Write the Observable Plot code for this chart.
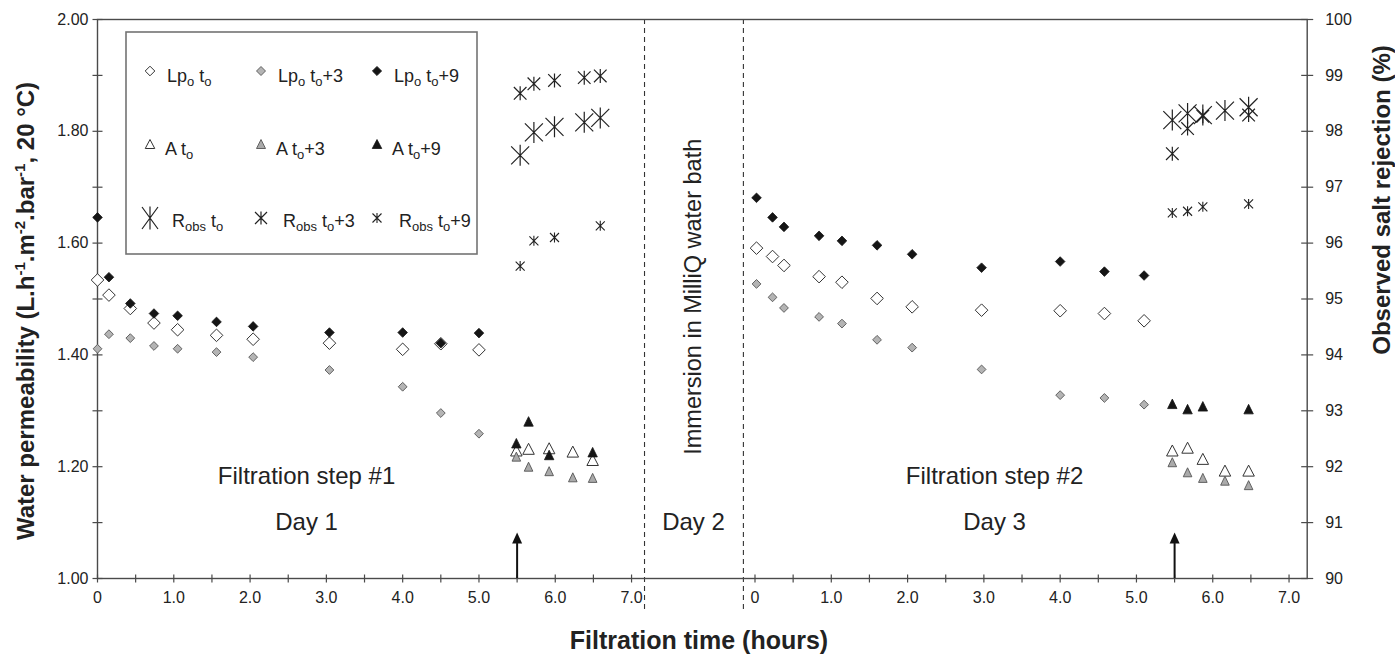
<!DOCTYPE html>
<html><head><meta charset="utf-8">
<script src="https://cdn.jsdelivr.net/npm/d3@7"></script>
<script src="https://cdn.jsdelivr.net/npm/@observablehq/plot@0.6"></script>
<style>
html,body{margin:0;padding:0;background:#fff;}
#chart{position:relative;width:1395px;height:657px;}
#chart svg{font-family:"Liberation Sans",Arial,sans-serif;}
</style></head><body><div id="chart"></div>
<script>
// ---------------- data ----------------
const OFFSET = 8.618;          // Day-3 time origin on the combined time axis (hours)
const X_END = 15.856;          // end of the combined time axis
const DIVIDERS = [7.17, 8.466];
const ARROWS = [5.5, 5.5 + OFFSET];
const ARROW_TOP = 1.0625;

// Filtration step #1 (Day 1)
const step1LpTimes = [0, 0.15, 0.43, 0.74, 1.05, 1.56, 2.04, 3.04, 4.0, 4.5, 5.0];
const step1Lp0 = [1.534, 1.507, 1.483, 1.457, 1.445, 1.435, 1.428, 1.421, 1.410, 1.420, 1.409];
const step1Lp3 = [1.411, 1.437, 1.430, 1.416, 1.411, 1.405, 1.396, 1.373, 1.343, 1.296, 1.259];
const step1Lp9 = [1.646, 1.539, 1.492, 1.474, 1.470, 1.459, 1.451, 1.440, 1.440, 1.421, 1.439];
const step1ATimes = [5.49, 5.65, 5.92, 6.23, 6.49];
const step1A0 = [1.229, 1.232, 1.233, 1.227, 1.212];
const step1A3 = [1.218, 1.200, 1.192, 1.181, 1.180];
const step1A9 = [1.242, 1.281, 1.221, null, 1.226];
const step1RTimes = [5.54, 5.72, 5.99, 6.38, 6.59];
const step1R0 = [97.57, 97.98, 98.08, 98.16, 98.24];
const step1R3 = [98.68, 98.85, 98.91, 98.96, 98.99];
const step1R9 = [95.59, 96.04, 96.10, null, 96.31];

// Filtration step #2 (Day 3)
const step2LpTimes = [0.02, 0.23, 0.38, 0.84, 1.14, 1.60, 2.06, 2.97, 4.0, 4.58, 5.10];
const step2Lp0 = [1.591, 1.576, 1.560, 1.540, 1.530, 1.501, 1.486, 1.480, 1.479, 1.474, 1.461];
const step2Lp3 = [1.527, 1.503, 1.484, 1.468, 1.456, 1.427, 1.413, 1.374, 1.328, 1.323, 1.311];
const step2Lp9 = [1.681, 1.646, 1.629, 1.613, 1.604, 1.596, 1.580, 1.556, 1.567, 1.549, 1.542];
const step2ATimes = [5.47, 5.67, 5.87, 6.16, 6.47];
const step2A0 = [1.229, 1.234, 1.214, 1.193, 1.193];
const step2A3 = [1.208, 1.190, 1.180, 1.175, 1.167];
const step2A9 = [1.3125, 1.303, 1.308, null, 1.303];
const step2RTimes = [5.47, 5.67, 5.87, 6.16, 6.47];
const step2R0 = [98.20, 98.32, 98.29, 98.37, 98.43];
const step2R3 = [97.60, 98.05, 98.27, null, 98.29];
const step2R9 = [96.54, 96.57, 96.65, null, 96.70];

// axes
const yTickLabels = ["1.00", "1.20", "1.40", "1.60", "1.80", "2.00"];
const yMinorTicks = [1.1, 1.3, 1.5, 1.7, 1.9];
const rightTickLabels = [90, 91, 92, 93, 94, 95, 96, 97, 98, 99, 100];
const xTickLabels = ["0", "1.0", "2.0", "3.0", "4.0", "5.0", "6.0", "7.0"];
const xMinorHours = [0.5, 1.5, 2.5, 3.5, 4.5, 5.5, 6.5];

const legendLabels = [
  ["Lp{o} t{o}", "Lp{o} t{o}+3", "Lp{o} t{o}+9"],
  ["A t{o}", "A t{o}+3", "A t{o}+9"],
  ["R{obs} t{o}", "R{obs} t{o}+3", "R{obs} t{o}+9"]
];
const annotations = [
  {text: "Filtration step #1", x: 2.74, y: 1.182},
  {text: "Day 1", x: 2.74, y: 1.10},
  {text: "Day 2", x: 7.812, y: 1.10},
  {text: "Filtration step #2", x: 11.758, y: 1.182},
  {text: "Day 3", x: 11.758, y: 1.10}
];
const verticalNote = {text: "Immersion in MilliQ water bath", x: 7.812, y: 1.504};
const xTitle = "Filtration time (hours)";
const rightTitle = "Observed salt rejection (%)";

// ---------------- helpers ----------------
const rToLp = r => 1 + (r - 90) / 10;   // right axis (%) -> left axis scale
function rows(times, vals, off, isR) {
  const out = [];
  times.forEach((t, i) => {
    const v = vals[i];
    if (v == null) return;
    out.push({x: t + off, y: isR ? rToLp(v) : v});
  });
  return out;
}
function diamondSym(h) { return {draw(c) { c.moveTo(0, -h); c.lineTo(h, 0); c.lineTo(0, h); c.lineTo(-h, 0); c.closePath(); }}; }
function triSym(w, h) { return {draw(c) { c.moveTo(0, -h / 2); c.lineTo(w / 2, h / 2); c.lineTo(-w / 2, h / 2); c.closePath(); }}; }
function starSym(xw, xh, vh) { return {draw(c) { c.moveTo(0, -vh); c.lineTo(0, vh); c.moveTo(-xw, -xh); c.lineTo(xw, xh); c.moveTo(-xw, xh); c.lineTo(xw, -xh); }}; }
const hTick = {draw(c) { c.moveTo(-5, 0); c.lineTo(5, 0); }};
const rTick = {draw(c) { c.moveTo(-6, 0); c.lineTo(6, 0); }};
const vTick = {draw(c) { c.moveTo(0, -4); c.lineTo(0, 4); }};
const arrowHead = {draw(c) { c.moveTo(0, -11); c.lineTo(5, 0); c.lineTo(-5, 0); c.closePath(); }};

const styles = {
  Lp0: {symbol: diamondSym(6.3), fill: "#fff", stroke: "#333", strokeWidth: 1},
  Lp3: {symbol: diamondSym(4.4), fill: "#b4b4b4", stroke: "#555", strokeWidth: 0.9},
  Lp9: {symbol: diamondSym(4.8), fill: "#151515", stroke: "#151515", strokeWidth: 0.8},
  A0: {symbol: triSym(11.5, 11), fill: "#fff", stroke: "#333", strokeWidth: 1},
  A3: {symbol: triSym(8.6, 9), fill: "#aaa", stroke: "#555", strokeWidth: 0.9},
  A9: {symbol: triSym(9.4, 9.5), fill: "#151515", stroke: "#151515", strokeWidth: 0.8},
  R0: {symbol: starSym(9, 9, 10.5), fill: "none", stroke: "#222", strokeWidth: 1.2},
  R3: {symbol: starSym(6.3, 6.3, 7), fill: "none", stroke: "#222", strokeWidth: 1.2},
  R9: {symbol: starSym(4.5, 4.5, 5), fill: "none", stroke: "#222", strokeWidth: 1.1}
};
const legendStyles = {
  Lp0: diamondSym(4.8), Lp3: diamondSym(4.5), Lp9: diamondSym(4.6),
  A0: triSym(9.5, 9), A3: triSym(9, 9), A9: triSym(9.5, 9),
  R0: starSym(8, 11, 11.5), R3: starSym(6, 6, 6.5), R9: starSym(4.5, 4.5, 5)
};
const legendKeys = [["Lp0", "Lp3", "Lp9"], ["A0", "A3", "A9"], ["R0", "R3", "R9"]];

const series = {
  Lp0: [...rows(step1LpTimes, step1Lp0, 0), ...rows(step2LpTimes, step2Lp0, OFFSET)],
  Lp3: [...rows(step1LpTimes, step1Lp3, 0), ...rows(step2LpTimes, step2Lp3, OFFSET)],
  Lp9: [...rows(step1LpTimes, step1Lp9, 0), ...rows(step2LpTimes, step2Lp9, OFFSET)],
  A0: [...rows(step1ATimes, step1A0, 0), ...rows(step2ATimes, step2A0, OFFSET)],
  A3: [...rows(step1ATimes, step1A3, 0), ...rows(step2ATimes, step2A3, OFFSET)],
  A9: [...rows(step1ATimes, step1A9, 0), ...rows(step2ATimes, step2A9, OFFSET)],
  R0: [...rows(step1RTimes, step1R0, 0, true), ...rows(step2RTimes, step2R0, OFFSET, true)],
  R3: [...rows(step1RTimes, step1R3, 0, true), ...rows(step2RTimes, step2R3, OFFSET, true)],
  R9: [...rows(step1RTimes, step1R9, 0, true), ...rows(step2RTimes, step2R9, OFFSET, true)]
};
const drawOrder = ["Lp0", "Lp3", "Lp9", "A0", "A3", "A9", "R0", "R3", "R9"];

const yMajor = yTickLabels.map(Number);
const rightTicks = rightTickLabels.map(rToLp);
const xMajor = [...xTickLabels.map((_, i) => i), ...xTickLabels.map((_, i) => i + OFFSET)];
const xMinor = [...xMinorHours, ...xMinorHours.map(h => h + OFFSET)];
const xLabel = d => xTickLabels[Math.round(d >= OFFSET - 0.01 ? d - OFFSET : d)];

const chart = Plot.plot({
  width: 1395, height: 657,
  marginLeft: 97, marginRight: 88.3, marginTop: 19, marginBottom: 79,
  x: {domain: [0, X_END], axis: null},
  y: {domain: [1, 2], axis: null},
  style: {fontFamily: "'Liberation Sans', Arial, sans-serif", fontSize: "16px", color: "#222", background: "#fff"},
  marks: [
    Plot.ruleX(DIVIDERS, {y1: 2, y2: 0.939, stroke: "#333", strokeWidth: 1.1, strokeDasharray: "5,4"}),
    Plot.frame({stroke: "#4a4a4a", strokeWidth: 1.4}),
    Plot.dot([...yMajor, ...yMinorTicks], {y: d => d, frameAnchor: "left", symbol: hTick, stroke: "#4a4a4a", strokeWidth: 1.2, r: 5}),
    Plot.dot(rightTicks, {y: d => d, frameAnchor: "right", symbol: rTick, stroke: "#4a4a4a", strokeWidth: 1.2, r: 5}),
    Plot.dot([...xMajor, ...xMinor], {x: d => d, frameAnchor: "bottom", symbol: vTick, stroke: "#4a4a4a", strokeWidth: 1.2, r: 5}),
    Plot.axisY({anchor: "left", ticks: yMajor, tickFormat: d3.format(".2f"), tickSize: 0, tickPadding: 9, label: null, fontSize: 16, fill: "#222"}),
    Plot.axisY({anchor: "right", ticks: rightTicks, tickFormat: d => String(Math.round(90 + (d - 1) * 10)), tickSize: 0, tickPadding: 18, label: null, fontSize: 16, fill: "#222"}),
    Plot.axisX({ticks: xMajor, tickFormat: xLabel, tickSize: 0, tickPadding: 13, label: null, fontSize: 16, fill: "#222"}),
    Plot.ruleX(ARROWS, {y1: 1, y2: ARROW_TOP, stroke: "#111", strokeWidth: 2}),
    Plot.dot(ARROWS, {x: d => d, y: () => ARROW_TOP, symbol: arrowHead, fill: "#111", stroke: "none", r: 5}),
    Plot.text(annotations, {x: "x", y: "y", text: "text", fontSize: 24, fill: "#222"}),
    Plot.text([verticalNote], {x: "x", y: "y", text: "text", rotate: -90, fontSize: 23.5, fill: "#222"}),
    ...drawOrder.map(k => Plot.dot(series[k], {x: "x", y: "y", r: 5, ...styles[k]}))
  ]
});
document.getElementById("chart").appendChild(chart);

// ---------------- titles and legend ----------------
const svg = d3.select(chart);
const font = "'Liberation Sans', Arial, sans-serif";

const lt = svg.append("text").attr("transform", "translate(34,311) rotate(-90)")
  .attr("text-anchor", "middle").attr("fill", "#222")
  .style("font-family", font).style("font-weight", "bold").style("font-size", "24px");
[["Water permeability (L.h", 0], ["-1", 1], [".m", 0], ["-2", 1], [".bar", 0], ["-1", 1], [", 20 °C)", 0]]
  .forEach(([t, sup], i, arr) => {
    const prevSup = i > 0 && arr[i - 1][1];
    lt.append("tspan").text(t)
      .attr("dy", sup ? -9 : (prevSup ? 9 : 0))
      .style("font-size", sup ? "15px" : "24px");
  });

svg.append("text").attr("x", 699).attr("y", 649).attr("text-anchor", "middle").attr("fill", "#222")
  .style("font-family", font).style("font-weight", "bold").style("font-size", "25px").text(xTitle);

svg.append("text").attr("transform", "translate(1390,200) rotate(-90)").attr("text-anchor", "middle").attr("fill", "#222")
  .style("font-family", font).style("font-weight", "bold").style("font-size", "24px").text(rightTitle);

// legend box
const lg = svg.append("g").attr("text-anchor", "start");
lg.append("rect").attr("x", 126).attr("y", 32).attr("width", 351).attr("height", 222)
  .attr("fill", "#fff").attr("stroke", "#737373").attr("stroke-width", 1.6);
const colX = [150, 261, 377];
const rowSymY = [71, 144, 218];
const rowTextY = [82, 155, 227];
const rowTextDx = [17, 15, 22];
legendKeys.forEach((row, ri) => {
  row.forEach((key, ci) => {
    const st = styles[key];
    lg.append("path").attr("d", d3.symbol().type(legendStyles[key])())
      .attr("transform", `translate(${colX[ci]},${rowSymY[ri]})`)
      .attr("fill", st.fill).attr("stroke", st.stroke).attr("stroke-width", st.strokeWidth);
    const t = lg.append("text").attr("x", colX[ci] + rowTextDx[ri]).attr("y", rowTextY[ri])
      .attr("text-anchor", "start")
      .attr("fill", "#222").style("font-family", font).style("font-size", "18px");
    const parts = legendLabels[ri][ci].split(/(\{[^}]*\})/).filter(s => s.length);
    let lastSub = false;
    parts.forEach(p => {
      const sub = p.startsWith("{");
      t.append("tspan").text(sub ? p.slice(1, -1) : p)
        .attr("dy", sub ? 4 : (lastSub ? -4 : 0))
        .style("font-size", sub ? "13px" : "18px");
      lastSub = sub;
    });
  });
});
</script></body></html>
